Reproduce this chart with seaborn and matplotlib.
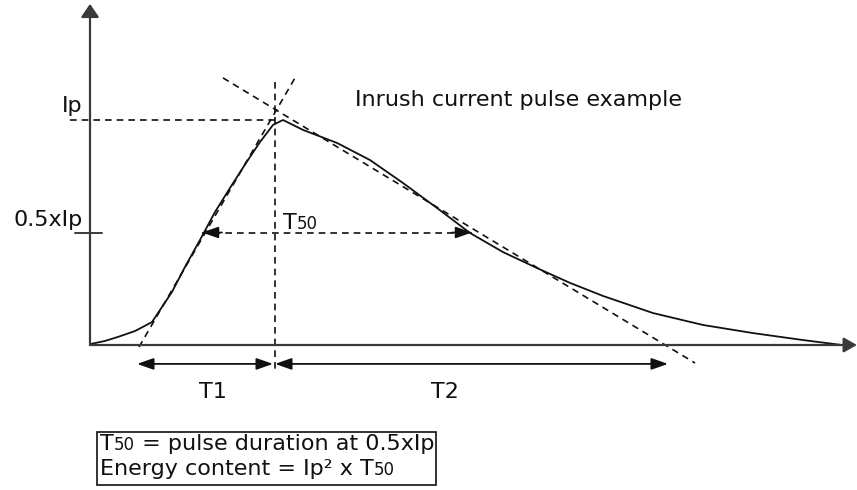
import matplotlib
matplotlib.use("Agg")
import matplotlib.pyplot as plt
import seaborn as sns
import pandas as pd

# Inrush current pulse (time in arbitrary units, current normalised to Ip = 1)
pulse_t = [0.00, 0.15, 0.28, 0.45, 0.62, 0.72, 0.82, 0.95, 1.10, 1.25, 1.40,
           1.56, 1.70, 1.83, 1.93, 2.13, 2.47, 2.80, 3.13, 3.47, 3.80, 4.13,
           4.47, 4.80, 5.13, 5.63, 6.13, 6.63, 7.13, 7.52]
pulse_i = [0.004, 0.018, 0.036, 0.062, 0.102, 0.169, 0.236, 0.347, 0.467,
           0.591, 0.698, 0.809, 0.902, 0.978, 1.000, 0.956, 0.898, 0.822,
           0.720, 0.609, 0.498, 0.413, 0.342, 0.276, 0.218, 0.142, 0.089,
           0.053, 0.022, 0.000]

# Construction lines
rise_tangent_t = [0.49, 2.05]
rise_tangent_i = [-0.009, 1.187]
fall_tangent_t = [1.33, 6.05]
fall_tangent_i = [1.187, -0.080]

peak_t = 1.85          # time of the peak marker line
ip_level = 1.0
half_level = 0.5
t50_start, t50_end = 1.12, 3.82
t1_start, t1_end = 0.47, 1.83
t2_start, t2_end = 1.85, 5.78

ink = "#111111"
axis_ink = "#3a3a3a"

sns.set_theme(style="white")
plt.rcParams["font.family"] = ["DejaVu Sans"]

fig = plt.figure(figsize=(8.57, 4.9), dpi=100)
ax = fig.add_axes([0, 0, 1, 1])
ax.set_xlim(-0.9, 7.67)
ax.set_ylim(-0.6444, 1.5333)
ax.axis("off")

dash = dict(color=ink, lw=1.2, dashes=(4, 3))

# Axes with arrow heads
ax.annotate("", xy=(0, 1.516), xytext=(0, 0),
            arrowprops=dict(arrowstyle="-|>,head_length=0.8,head_width=0.55",
                            mutation_scale=10, color=axis_ink, lw=1.6,
                            shrinkA=0, shrinkB=0))
ax.annotate("", xy=(7.67, 0), xytext=(0, 0),
            arrowprops=dict(arrowstyle="-|>,head_length=0.8,head_width=0.45",
                            mutation_scale=10, color=axis_ink, lw=1.6,
                            shrinkA=0, shrinkB=0))

# Pulse curve
df = pd.DataFrame({"t": pulse_t, "i": pulse_i})
sns.lineplot(data=df, x="t", y="i", ax=ax, color=ink, lw=1.3,
             sort=False, estimator=None, solid_joinstyle="round")

# Tangents, peak and level guides
ax.plot(rise_tangent_t, rise_tangent_i, **dash)
ax.plot(fall_tangent_t, fall_tangent_i, **dash)
ax.plot([peak_t, peak_t], [1.169, -0.111], **dash)
ax.plot([-0.20, peak_t], [ip_level, ip_level], **dash)
ax.plot([-0.15, 0.12], [half_level, half_level], color=axis_ink, lw=1.4)

# T50 dashed span with arrow heads
ax.plot([t50_start, t50_end], [half_level, half_level], **dash)
head = dict(arrowstyle="-|>,head_length=1.0,head_width=0.35",
            mutation_scale=10, color=ink, lw=1.2, shrinkA=0, shrinkB=0)
ax.annotate("", xy=(t50_start, half_level), xytext=(t50_start + 0.2, half_level),
            arrowprops=head)
ax.annotate("", xy=(t50_end, half_level), xytext=(t50_end - 0.2, half_level),
            arrowprops=head)

# T1 / T2 double arrows
span = dict(arrowstyle="<|-|>,head_length=1.0,head_width=0.35",
            mutation_scale=10, color=ink, lw=1.3, shrinkA=0, shrinkB=0)
ax.annotate("", xy=(t1_end, -0.084), xytext=(t1_start, -0.084), arrowprops=span)
ax.annotate("", xy=(t2_end, -0.084), xytext=(t2_start, -0.084), arrowprops=span)

fs = 16
small = 12


def runs(x, y, pieces, ha_first="left"):
    """Write text pieces of differing sizes one after another on a line."""
    prev = None
    for s, size in pieces:
        if prev is None:
            prev = ax.text(x, y, s, fontsize=size, color=ink,
                           ha=ha_first, va="bottom")
        else:
            prev = ax.annotate(s, xy=(1, 0), xycoords=prev, fontsize=size,
                               color=ink, ha="left", va="bottom")
    return prev


ax.text(2.65, 1.089, "Inrush current pulse example", fontsize=fs,
        color=ink, ha="left", va="center")
ax.text(-0.07, 1.036, "Ip", fontsize=fs, color=ink, ha="right", va="baseline")
ax.text(-0.07, 0.529, "0.5xIp", fontsize=fs, color=ink, ha="right", va="baseline")
runs(1.93, 0.50, [("T", fs), ("50", small)])
ax.text(1.23, -0.209, "T1", fontsize=fs, color=ink, ha="center", va="center")
ax.text(3.55, -0.209, "T2", fontsize=fs, color=ink, ha="center", va="center")

# Definition box
box = plt.Rectangle((0.07, -0.622), 3.39, 0.236, fill=False, ec=ink, lw=1.2)
ax.add_patch(box)
runs(0.10, -0.485, [("T", fs), ("50", small), (" = pulse duration at 0.5xIp", fs)])
runs(0.10, -0.595, [("Energy content = Ip\u00b2 x T", fs), ("50", small)])

fig.savefig("out.png", dpi=100)
